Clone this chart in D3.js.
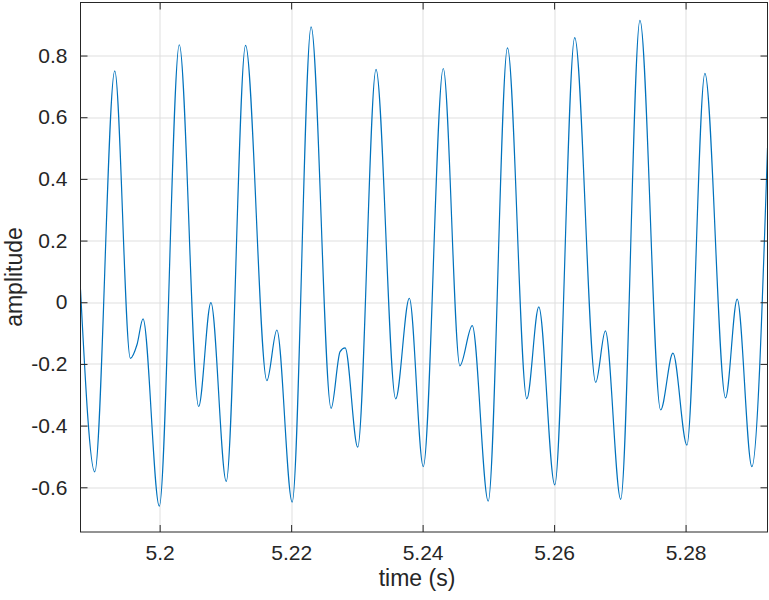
<!DOCTYPE html>
<html>
<head>
<meta charset="utf-8">
<script src="https://cdn.jsdelivr.net/npm/d3@7"></script>
<style>
body { margin: 0; background: #fff; }
svg { display: block; font-family: "Liberation Sans", Arial, sans-serif; }
.tick text { fill: #262626; font-size: 21px; }
.axisLabel { fill: #262626; font-size: 23px; }
</style>
</head>
<body>
<div id="chart"></div>
<script>
// samples (extrema + a few shoulder points)
var timeValues = [
    5.18796, 5.19013, 5.19317, 5.19555, 5.19656, 5.19747, 5.19995, 5.20299,
    5.20593, 5.20780, 5.21013, 5.21307, 5.21631, 5.21783, 5.22016, 5.22304,
    5.22608, 5.22745, 5.22821, 5.23013, 5.23291, 5.23590, 5.23798, 5.24010,
    5.24314, 5.24567, 5.24755, 5.24998, 5.25291, 5.25585, 5.25767, 5.26010,
    5.26314, 5.26633, 5.26780, 5.27013, 5.27306, 5.27620, 5.27808, 5.28020,
    5.28294, 5.28608, 5.28785, 5.29008, 5.29246
];
var amplitudeValues = [
    0.041, -0.550, 0.750, -0.182, -0.137, -0.054, -0.661, 0.835,
    -0.338, -0.001, -0.581, 0.833, -0.254, -0.090, -0.648, 0.893,
    -0.344, -0.160, -0.148, -0.470, 0.755, -0.313, 0.013, -0.533,
    0.758, -0.206, -0.076, -0.645, 0.825, -0.313, -0.015, -0.592,
    0.858, -0.260, -0.093, -0.639, 0.914, -0.349, -0.165, -0.463,
    0.742, -0.310, 0.010, -0.533, 0.500
];

var xTickValues = [5.2, 5.22, 5.24, 5.26, 5.28];
var xTickLabels = ['5.2', '5.22', '5.24', '5.26', '5.28'];
var yTickValues = [-0.6, -0.4, -0.2, 0, 0.2, 0.4, 0.6, 0.8];
var yTickLabels = ['-0.6', '-0.4', '-0.2', '0', '0.2', '0.4', '0.6', '0.8'];

var xLimits = [5.18796, 5.29246];
var yLimits = [-0.745, 0.972];

var W = 769, H = 600;
var margin = {top: 2.5, right: 1.5, bottom: 68, left: 80.5};
var plotW = W - margin.left - margin.right;
var plotH = H - margin.top - margin.bottom;
var tickLen = 7;
var axisColor = '#262626';
var gridColor = '#dfdfdf';

var svg = d3.select('#chart')
    .append('svg')
    .attr('width', W)
    .attr('height', H);

var x = d3.scaleLinear().domain(xLimits).range([0, plotW]);
var y = d3.scaleLinear().domain(yLimits).range([plotH, 0]);

var g = svg.append('g')
    .attr('transform', 'translate(' + margin.left + ',' + margin.top + ')');

// grid
g.append('g')
    .attr('class', 'grid')
    .selectAll('line.gx')
    .data(xTickValues)
    .enter().append('line')
    .attr('x1', function(d) { return Math.round(x(d)) + 0.5; })
    .attr('x2', function(d) { return Math.round(x(d)) + 0.5; })
    .attr('y1', 0).attr('y2', plotH)
    .attr('stroke', gridColor);

g.append('g')
    .attr('class', 'grid')
    .selectAll('line.gy')
    .data(yTickValues)
    .enter().append('line')
    .attr('y1', function(d) { return Math.round(y(d)) + 0.5; })
    .attr('y2', function(d) { return Math.round(y(d)) + 0.5; })
    .attr('x1', 0).attr('x2', plotW)
    .attr('stroke', gridColor);

// waveform
g.append('clipPath')
    .attr('id', 'plotclip')
    .append('rect')
    .attr('width', plotW)
    .attr('height', plotH);

var line = d3.line()
    .x(function(d, i) { return x(timeValues[i]); })
    .y(function(d, i) { return y(amplitudeValues[i]); })
    .curve(d3.curveMonotoneX);

g.append('path')
    .datum(timeValues)
    .attr('clip-path', 'url(#plotclip)')
    .attr('d', line)
    .attr('fill', 'none')
    .attr('stroke', '#0072BD')
    .attr('stroke-width', 1.2);

// axes (ticks inward, mirrored on top/right)
function styleAxis(sel) {
    sel.select('.domain').remove();
    sel.selectAll('.tick line').attr('stroke', axisColor);
}

var xAxis = d3.axisBottom(x)
    .tickValues(xTickValues)
    .tickFormat(function(d, i) { return xTickLabels[i]; })
    .tickSizeInner(-tickLen)
    .tickSizeOuter(0)
    .tickPadding(13);
g.append('g')
    .attr('transform', 'translate(0,' + plotH + ')')
    .call(xAxis)
    .call(styleAxis);

g.append('g')
    .call(d3.axisTop(x).tickValues(xTickValues).tickFormat('').tickSizeInner(-tickLen).tickSizeOuter(0))
    .call(styleAxis);

var yAxis = d3.axisLeft(y)
    .tickValues(yTickValues)
    .tickFormat(function(d, i) { return yTickLabels[i]; })
    .tickSizeInner(-tickLen)
    .tickSizeOuter(0)
    .tickPadding(13);
g.append('g')
    .call(yAxis)
    .call(styleAxis);

g.append('g')
    .attr('transform', 'translate(' + plotW + ',0)')
    .call(d3.axisRight(y).tickValues(yTickValues).tickFormat('').tickSizeInner(-tickLen).tickSizeOuter(0))
    .call(styleAxis);

g.selectAll('.tick text').attr('font-family', null).attr('font-size', null);

// box
g.append('rect')
    .attr('width', plotW)
    .attr('height', plotH)
    .attr('fill', 'none')
    .attr('stroke', axisColor)
    .attr('stroke-width', 1);

// labels
svg.append('text')
    .attr('class', 'axisLabel')
    .attr('x', 417)
    .attr('y', 586)
    .attr('text-anchor', 'middle')
    .text('time (s)');

svg.append('text')
    .attr('class', 'axisLabel')
    .attr('transform', 'translate(22,277) rotate(-90)')
    .attr('text-anchor', 'middle')
    .text('amplitude');
</script>
</body>
</html>
